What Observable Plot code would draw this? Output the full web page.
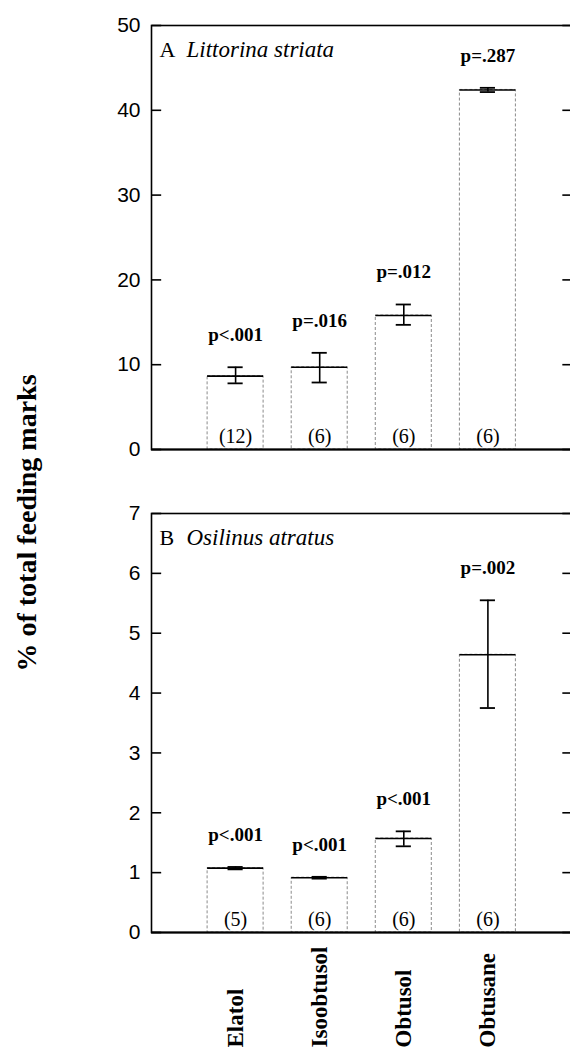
<!DOCTYPE html>
<html><head><meta charset="utf-8">
<script src="https://cdn.jsdelivr.net/npm/d3@7"></script>
<script src="https://cdn.jsdelivr.net/npm/@observablehq/plot@0.6"></script>
<style>
html,body{margin:0;padding:0;background:#fff;overflow:hidden;}
#wrap{position:relative;width:570px;height:1051px;overflow:hidden;background:#fff;}
#wrap > * {position:absolute;left:0;max-width:none !important;}
</style></head><body><div id="wrap"></div>
<script>
const compounds = ["Elatol", "Isoobtusol", "Obtusol", "Obtusane"];

const meanA = [8.65, 9.7, 15.8, 42.4];
const lowA  = [7.8, 7.9, 14.7, 42.15];
const highA = [9.7, 11.4, 17.1, 42.65];
const pA = ["p<.001", "p=.016", "p=.012", "p=.287"];
const nA = ["(12)", "(6)", "(6)", "(6)"];
const ticksA = [0, 10, 20, 30, 40, 50];

const meanB = [1.075, 0.915, 1.57, 4.64];
const lowB  = [1.055, 0.9, 1.44, 3.75];
const highB = [1.095, 0.93, 1.69, 5.55];
const pB = ["p<.001", "p<.001", "p<.001", "p=.002"];
const nB = ["(5)", "(6)", "(6)", "(6)"];
const ticksB = [0, 1, 2, 3, 4, 5, 6, 7];

const serif = "'Liberation Serif', 'Times New Roman', serif";
const sans = "'Liberation Sans', Arial, sans-serif";

function panel({mean, low, high, p, n, ticks, letter, species, height, marginTop, marginBottom, xLabels}) {
  const rows = compounds.map((c, i) => ({c, pos: i + 1, mean: mean[i], low: low[i], high: high[i], p: p[i], n: n[i]}));
  const xDomain = [0, compounds.length + 1];
  const tl = 0.115;
  const tickRows = ticks.map(t => ({t, l0: xDomain[0], l1: xDomain[0] + tl, r0: xDomain[1] - tl, r1: xDomain[1]}));
  const hb = 0.333, hc = 0.09;
  const marks = [
    Plot.rectY(rows, {x1: d => d.pos - hb, x2: d => d.pos + hb, y1: 0, y2: "mean", fill: "white", stroke: "#8a8a8a", strokeWidth: 1, strokeDasharray: "3,2"}),
    Plot.ruleY(rows, {y: "mean", x1: d => d.pos - hb, x2: d => d.pos + hb, stroke: "black", strokeWidth: 1.6}),
    Plot.ruleX(rows, {x: "pos", y1: "low", y2: "high", stroke: "black", strokeWidth: 1.6}),
    Plot.ruleY(rows, {y: "low", x1: d => d.pos - hc, x2: d => d.pos + hc, stroke: "black", strokeWidth: 1.8}),
    Plot.ruleY(rows, {y: "high", x1: d => d.pos - hc, x2: d => d.pos + hc, stroke: "black", strokeWidth: 1.8}),
    Plot.text(rows, {x: "pos", y: "high", text: "p", lineAnchor: "bottom", dy: -26, fontWeight: "bold", fontSize: 19, fontFamily: serif, fill: "black"}),
    Plot.text(rows, {x: "pos", y: 0, text: "n", lineAnchor: "bottom", dy: -7, fontSize: 20, fontFamily: serif, fill: "black"}),
    Plot.axisY(ticks, {anchor: "left", tickSize: 0, tickPadding: 11, tickFormat: d => String(d), fontSize: 21, fontFamily: sans, fill: "black"}),
    Plot.frame({stroke: "black", strokeWidth: 1.6}),
    Plot.ruleY([0], {stroke: "black", strokeWidth: 2.2}),
    Plot.link(tickRows, {x1: "l0", x2: "l1", y1: "t", y2: "t", stroke: "black", strokeWidth: 1.6}),
    Plot.link(tickRows, {x1: "r0", x2: "r1", y1: "t", y2: "t", stroke: "black", strokeWidth: 1.6}),
    Plot.text([letter], {frameAnchor: "top-left", dx: 8, dy: 31, lineAnchor: "bottom", fontSize: 22, fontFamily: serif, fill: "black"}),
    Plot.text([species], {frameAnchor: "top-left", dx: 35, dy: 31, lineAnchor: "bottom", fontSize: 23, fontStyle: "italic", fontFamily: serif, fill: "black"})
  ];
  if (xLabels) {
    marks.push(Plot.text(rows, {x: "pos", text: "c", frameAnchor: "bottom", dy: marginBottom - 4, rotate: -90, textAnchor: "start", lineAnchor: "middle", fontSize: 23, fontWeight: "bold", fontFamily: serif, fill: "black"}));
  }
  return Plot.plot({
    width: 576, height, marginLeft: 151, marginRight: 4.5, marginTop, marginBottom,
    x: {domain: xDomain, axis: null},
    y: {domain: [ticks[0], ticks[ticks.length - 1]], axis: null},
    style: {background: "transparent", maxWidth: "none"},
    marks
  });
}

const wrap = document.getElementById("wrap");
const a = panel({mean: meanA, low: lowA, high: highA, p: pA, n: nA, ticks: ticksA, letter: "A", species: "Littorina striata", height: 470, marginTop: 25, marginBottom: 21, xLabels: false});
a.style.top = "0px";
wrap.appendChild(a);
const b = panel({mean: meanB, low: lowB, high: highB, p: pB, n: nB, ticks: ticksB, letter: "B", species: "Osilinus atratus", height: 581, marginTop: 43, marginBottom: 119, xLabels: true});
b.style.top = "470px";
wrap.appendChild(b);

const lab = d3.create("svg").attr("width", 60).attr("height", 1051).style("top", "0px");
lab.append("text")
  .attr("transform", "translate(36,523) rotate(-90)")
  .attr("text-anchor", "middle")
  .attr("font-family", serif).attr("font-weight", "bold").attr("font-size", 28)
  .attr("fill", "black")
  .text("% of total feeding marks");
wrap.appendChild(lab.node());
</script></body></html>
